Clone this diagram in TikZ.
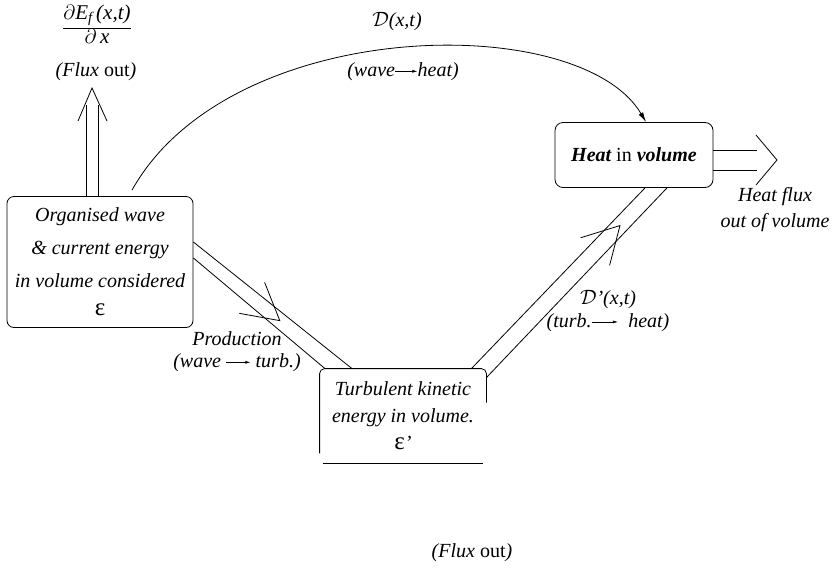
\documentclass[tikz,border=0pt]{standalone}
\usepackage{amsmath}
\usepackage{fontspec}
\setmainfont{Liberation Serif}
\usetikzlibrary{arrows.meta, positioning, calc, decorations.markings}

\tikzset{
  every picture/.style={line width=0.8pt},
  block/.style={draw, rounded corners=7pt, align=center, inner sep=2pt},
  lbl/.style={font=\fontsize{20}{24}\selectfont\itshape, align=center, inner sep=1pt},
  flow/.style={-{Latex[length=10pt, width=5pt]}},
  midbarb/.style={decoration={markings,
      mark=at position #1 with {\arrow{Straight Barb[length=36pt, width=40pt]}}},
    postaction={decorate}},
}
% small inline arrow used inside the labels
\newcommand{\harr}[1][22pt]{\tikz[baseline=-0.6ex]\draw[line width=0.6pt, -{Latex[length=5pt, width=3pt]}] (0pt,0pt) -- (#1,0pt);}
\newcommand{\eps}{{\upshape\fontsize{25}{25}\selectfont ε}}

\begin{document}
\begin{tikzpicture}[x=1pt, y=-1pt]
  \useasboundingbox (0,0) rectangle (840,568);

  % energy stores
  \node[block, lbl, font=\fontsize{20}{33}\selectfont\itshape, minimum width=186pt, minimum height=131pt]
    (wave) at (100,262) {Organised wave\\ \& current energy\\ in volume considered\\[-5pt] \eps};
  \node[block, lbl, rounded corners=8pt, minimum width=158pt, minimum height=65pt]
    (heat) at (634,155) {\textbf{Heat} {\upshape in} \textbf{volume}};
  \node[lbl, font=\fontsize{20}{27}\selectfont\itshape, minimum width=166pt, minimum height=94pt]
    (turb) at (403,416) {Turbulent kinetic\\ energy in volume.\\ \eps’};
  \draw[rounded corners=5pt] ([yshift=10pt]turb.south west) |- (turb.north east) -- ([yshift=-34pt]turb.north east);
  \draw ([xshift=3pt]turb.south west) -- ([xshift=-3pt]turb.south east);

  % labels
  \node[lbl, font=\fontsize{21}{24}\selectfont\itshape] (frac) at (97,27)
    {\renewcommand{\arraystretch}{0.85}\begin{tabular}{@{}c@{}}
      $\partial$E$_{\textit{f}}$\,(x,t)\\[3pt] \hline $\partial$\,x
    \end{tabular}};
  \node[lbl] (fluxtop) at (96,72) {(Flux {\upshape out})};
  \node[lbl] (dtop) at (397,22) {$\mathcal{D}$(x,t)};
  \node[lbl] (dwh) at (403,72) {(wave\harr heat)};
  \node[lbl, font=\fontsize{20}{22}\selectfont\itshape] (prod) at (237,352) {Production\\ (wave \harr[24pt] turb.)};
  \node[lbl, font=\fontsize{20}{23}\selectfont\itshape] (dprime) at (608,311) {$\mathcal{D}$’(x,t)\\ (turb.\harr[26pt]\ \ heat)};
  \node[lbl, font=\fontsize{20}{26}\selectfont\itshape] (hflux) at (775,210) {Heat flux\\ out of volume};
  \node[lbl] (fluxbot) at (472,553) {(Flux {\upshape out})};

  % flux out through the top
  \coordinate (uptip) at (92,88);
  \draw ([xshift=-14pt]wave.north) -- ([xshift=-6pt, yshift=-17pt]uptip);
  \draw ([xshift=-2pt]wave.north) -- ([xshift=6pt, yshift=-17pt]uptip);
  \draw ([xshift=-14pt, yshift=-33pt]uptip) -- (uptip) -- ([xshift=15pt, yshift=-33pt]uptip);

  % wave -> heat
  \draw[flow] ([xshift=32pt, yshift=6pt]wave.north) .. controls (230,15) and (580,10) .. ([xshift=12pt]heat.north);

  % production: wave -> turbulence
  \coordinate (pa) at ([yshift=20pt]wave.east);
  \coordinate (pb) at ([yshift=4pt]wave.east);
  \coordinate (pc) at ([xshift=-51pt]turb.north);
  \coordinate (pd) at ([xshift=-78pt]turb.north);
  \draw (pa) -- (pc);
  \draw (pb) -- (pd);
  \path[midbarb=0.6] ($(pa)!0.5!(pb)$) -- ($(pc)!0.5!(pd)$);

  % dissipation: turbulence -> heat
  \coordinate (da) at ([xshift=-15pt]turb.north east);
  \coordinate (db) at ([yshift=-9pt]turb.north east);
  \coordinate (dc) at ([xshift=11pt]heat.south);
  \coordinate (dd) at ([xshift=33pt]heat.south);
  \draw (da) -- (dc);
  \draw (db) -- (dd);
  \path[midbarb=0.8] ($(da)!0.5!(db)$) -- ($(dc)!0.5!(dd)$);

  % heat flux out of the volume
  \coordinate (htip) at (777,160);
  \coordinate (hl1) at ([xshift=-20pt, yshift=10pt]htip);
  \coordinate (hl2) at ([xshift=-20pt, yshift=-10pt]htip);
  \draw (heat.east |- hl1) -- (hl1);
  \draw (heat.east |- hl2) -- (hl2);
  \draw ([xshift=-21pt, yshift=25pt]htip) -- (htip) -- ([xshift=-21pt, yshift=-25pt]htip);
\end{tikzpicture}
\end{document}
